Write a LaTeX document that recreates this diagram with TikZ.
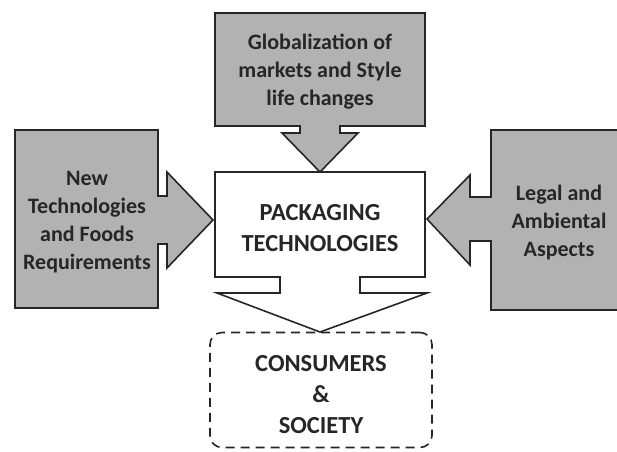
\documentclass[tikz,border=0pt]{standalone}
\usepackage{fontspec}
\setmainfont{Carlito}

\begin{document}
\begin{tikzpicture}[x=1pt,y=-1pt,
            gris/.style={draw=black!85, fill=black!30, line width=1.6pt},
            blanc/.style={draw=black!85, fill=white, line width=1.6pt},
            tiret/.style={draw=black!85, line width=1.6pt, dash pattern=on 9pt off 6pt,
                rounded corners=12pt, minimum width=222pt, minimum height=115pt},
            txt/.style={align=center, text=black!85, font=\bfseries\fontsize{22}{28}\selectfont},
            gtxt/.style={align=center, text=black!85, font=\bfseries\fontsize{24.5}{31}\selectfont},
        ]
        \useasboundingbox (0,0) rectangle (617,451);
        \clip (0,0) rectangle (617,451);
        % boxes with their arrows
        \draw[gris] (15,130) -- (158,130) -- (158,196) -- (167,196) -- (167,172) -- (213,220)
            -- (167,268) -- (167,244) -- (158,244) -- (158,308) -- (15,308) -- cycle;
        \draw[gris] (215,13) -- (425,13) -- (425,126) -- (340,126) -- (340,133) -- (358,133)
            -- (320,172) -- (282,133) -- (300,133) -- (300,126) -- (215,126) -- cycle;
        \draw[gris] (625,130) -- (491,130) -- (491,197) -- (470,197) -- (470,175) -- (427,219)
            -- (470,265) -- (470,241) -- (491,241) -- (491,310) -- (625,310);
        \draw[blanc] (215,172) -- (425,172) -- (425,277) -- (360,277) -- (360,293) -- (427,293)
            -- (320,332) -- (217,293) -- (280,293) -- (280,277) -- (215,277) -- cycle;
        \node[tiret] (cadre) at (321,390) {};
        % texts
        \node[txt] (neuf) at (87,222) {New\\Technologies\\and Foods\\Requirements};
        \node[txt] (globa) at (320,72) {Globalization of\\markets and Style\\life changes};
        \node[txt] (legal) at (559,223) {Legal and\\Ambiental\\Aspects};
        \node[gtxt] (packa) at (320,228) {PACKAGING\\TECHNOLOGIES};
        \node[gtxt, yshift=-5pt] (conso) at (cadre.center) {CONSUMERS\\\&\\SOCIETY};
    \end{tikzpicture}
\end{document}
